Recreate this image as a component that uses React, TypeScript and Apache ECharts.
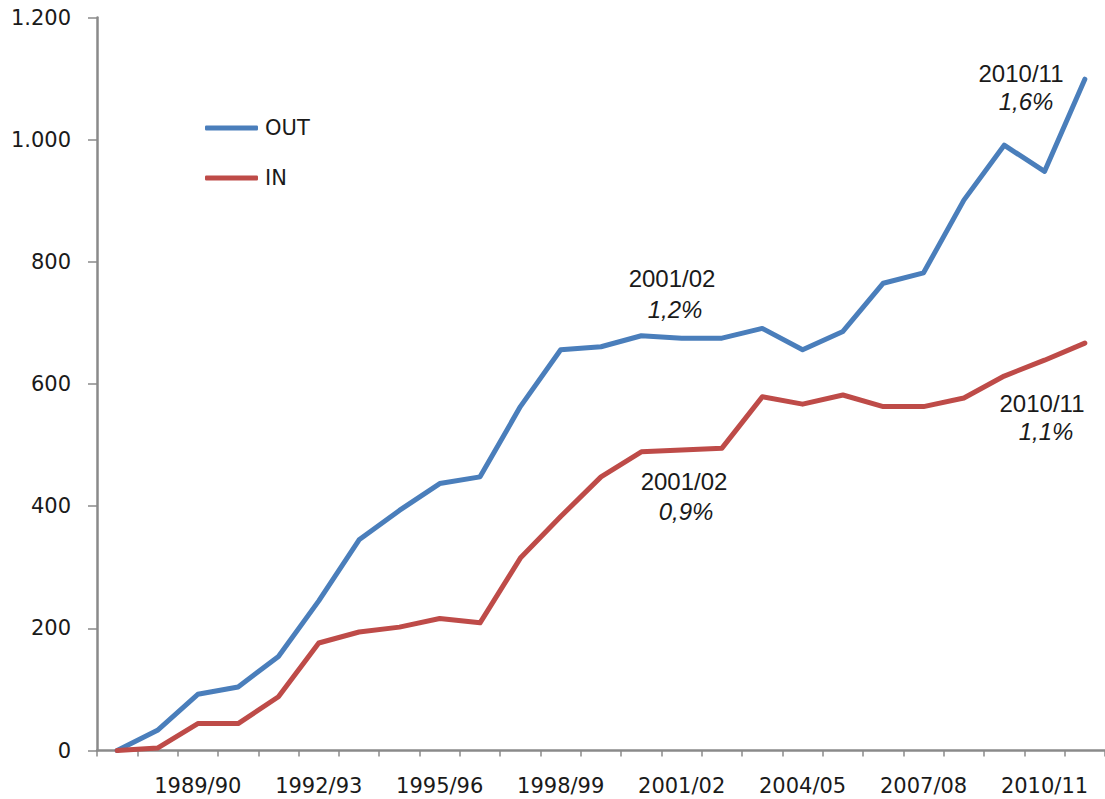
import React, { useEffect, useRef } from "react";
import * as echarts from "echarts";

const categories = [
  "1987/88", "1988/89", "1989/90", "1990/91", "1991/92", "1992/93", "1993/94",
  "1994/95", "1995/96", "1996/97", "1997/98", "1998/99", "1999/00", "2000/01",
  "2001/02", "2002/03", "2003/04", "2004/05", "2005/06", "2006/07", "2007/08",
  "2008/09", "2009/10", "2010/11", "2011/12",
];

const outValues = [
  0, 33, 92, 104, 154, 245, 345, 393, 437, 448, 563, 656, 661, 679, 675, 675,
  691, 656, 686, 765, 782, 901, 991, 948, 1099,
];

const inValues = [
  0, 4, 44, 44, 88, 176, 194, 202, 216, 209, 315, 383, 448, 489, 492, 495,
  579, 567, 582, 563, 563, 577, 613, 639, 667,
];

const yTickLabels: Record<number, string> = {
  0: "0", 200: "200", 400: "400", 600: "600", 800: "800", 1000: "1.000", 1200: "1.200",
};

const annotations = [
  { year: "2001/02", pct: "1,2%", x: 672, y1: 278, x2: 675, y2: 309 },
  { year: "2001/02", pct: "0,9%", x: 684, y1: 481, x2: 686, y2: 511 },
  { year: "2010/11", pct: "1,6%", x: 1021, y1: 73, x2: 1026, y2: 101 },
  { year: "2010/11", pct: "1,1%", x: 1042, y1: 403, x2: 1046, y2: 431 },
];

const BLUE = "#4a7ebb";
const RED = "#be4b48";
const AXIS = "#8a8a8a";
const TEXT = "#1a1a1a";
const AXIS_FONT = "DejaVu Sans";
const NOTE_FONT = "Liberation Sans";

export default function App() {
  const ref = useRef<HTMLDivElement>(null);

  useEffect(() => {
    if (!ref.current) return;
    const chart = echarts.init(ref.current, undefined, { renderer: "svg" });

    const graphics: any[] = [];
    annotations.forEach((a) => {
      graphics.push({
        type: "text",
        x: a.x,
        y: a.y1,
        style: {
          text: a.year,
          fill: TEXT,
          font: `24px "${NOTE_FONT}"`,
          textAlign: "center",
          textVerticalAlign: "middle",
        },
      });
      graphics.push({
        type: "text",
        x: a.x2,
        y: a.y2,
        style: {
          text: a.pct,
          fill: TEXT,
          font: `italic 24px "${NOTE_FONT}"`,
          textAlign: "center",
          textVerticalAlign: "middle",
        },
      });
    });

    chart.setOption({
      animation: false,
      backgroundColor: "#ffffff",
      grid: { left: 97, right: -5, top: 17.5, bottom: 48.5, containLabel: false },
      legend: {
        orient: "vertical",
        left: 200,
        top: 111,
        icon: "roundRect",
        itemWidth: 53,
        itemHeight: 5,
        itemGap: 26,
        textStyle: {
          fontFamily: AXIS_FONT,
          fontSize: 21,
          color: TEXT,
          lineHeight: 24,
          padding: [0, 0, 0, 2],
        },
        data: ["OUT", "IN"],
      },
      xAxis: {
        type: "category",
        data: categories,
        boundaryGap: true,
        axisLine: { lineStyle: { color: AXIS, width: 2.5 } },
        axisTick: { show: true, interval: 0, length: 6, lineStyle: { color: AXIS, width: 1.5 } },
        axisLabel: {
          interval: (i: number) => i % 3 === 2,
          margin: 25,
          fontFamily: AXIS_FONT,
          fontSize: 21,
          color: TEXT,
        },
        splitLine: { show: false },
      },
      yAxis: {
        type: "value",
        min: 0,
        max: 1200,
        interval: 200,
        axisLine: { show: true, lineStyle: { color: AXIS, width: 2.5 } },
        axisTick: { show: true, length: 9, lineStyle: { color: AXIS, width: 1.5 } },
        axisLabel: {
          margin: 26,
          fontFamily: AXIS_FONT,
          fontSize: 21,
          color: TEXT,
          formatter: (v: number) => yTickLabels[v] ?? String(v),
        },
        splitLine: { show: false },
      },
      series: [
        {
          name: "OUT",
          type: "line",
          data: outValues,
          showSymbol: false,
          symbol: "none",
          color: BLUE,
          lineStyle: { color: BLUE, width: 5, join: "round", cap: "round" },
        },
        {
          name: "IN",
          type: "line",
          data: inValues,
          showSymbol: false,
          symbol: "none",
          color: RED,
          lineStyle: { color: RED, width: 5, join: "round", cap: "round" },
        },
      ],
      graphic: graphics,
    });

    return () => chart.dispose();
  }, []);

  return (
    <div
      ref={ref}
      style={{ position: "fixed", left: 0, top: 0, width: 1105, height: 799, background: "#fff" }}
    />
  );
}
